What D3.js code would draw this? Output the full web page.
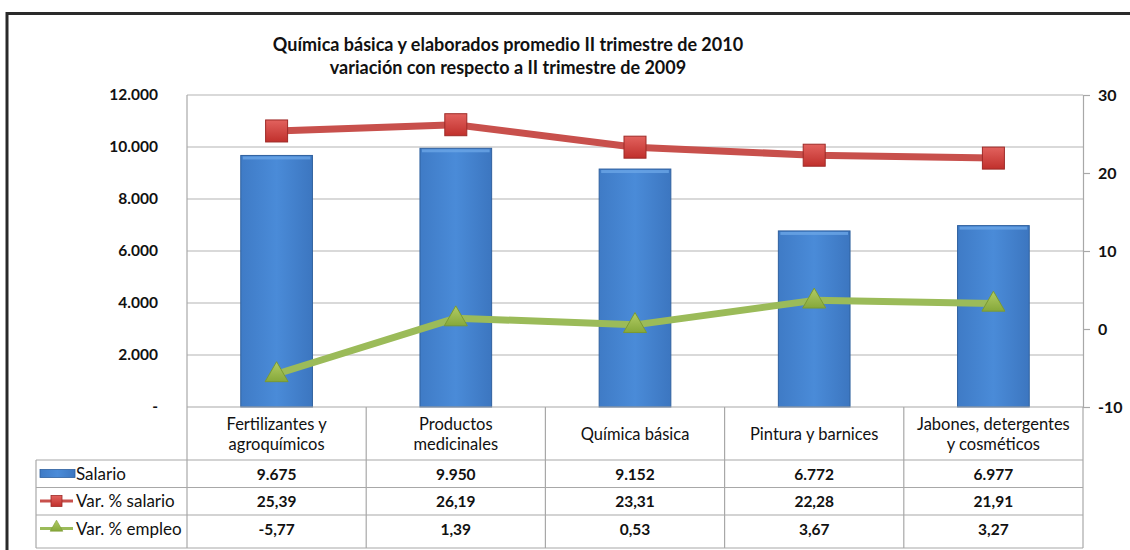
<!DOCTYPE html>
<html><head><meta charset="utf-8">
<script src="https://cdn.jsdelivr.net/npm/d3@7"></script>
<style>html,body{margin:0;padding:0;background:#fff;}svg{display:block;font-family:Lato,"Noto Sans",sans-serif;}</style>
</head><body>
<script>
const categories = [["Fertilizantes y","agroquímicos"],["Productos","medicinales"],["Química básica"],["Pintura y barnices"],["Jabones, detergentes","y cosméticos"]];
const salario = [9675, 9950, 9152, 6772, 6977];
const varSalario = [25.39, 26.19, 23.31, 22.28, 21.91];
const varEmpleo = [-5.77, 1.39, 0.53, 3.67, 3.27];
const salarioLabels = ["9.675","9.950","9.152","6.772","6.977"];
const varSalarioLabels = ["25,39","26,19","23,31","22,28","21,91"];
const varEmpleoLabels = ["-5,77","1,39","0,53","3,67","3,27"];
const leftTicks = [0,2000,4000,6000,8000,10000,12000];
const leftTickLabels = ["-","2.000","4.000","6.000","8.000","10.000","12.000"];
const rightTicks = [-10,0,10,20,30];
const seriesNames = ["Salario","Var. % salario","Var. % empleo"];
const titleLines = ["Química básica y elaborados  promedio II trimestre de 2010","variación con respecto a II trimestre de 2009"];

const W=1130,H=550;
const svg=d3.select("body").append("svg").attr("width",W).attr("height",H);
const defs=svg.append("defs");
const gb=defs.append("linearGradient").attr("id","gbar").attr("x1",0).attr("x2",1).attr("y1",0).attr("y2",0);
gb.append("stop").attr("offset","0").attr("stop-color","#3f7bc6");
gb.append("stop").attr("offset","0.5").attr("stop-color","#4a8bd8");
gb.append("stop").attr("offset","1").attr("stop-color","#3c76c0");
const gr=defs.append("linearGradient").attr("id","gred").attr("x1",0).attr("x2",0).attr("y1",0).attr("y2",1);
gr.append("stop").attr("offset","0").attr("stop-color","#e2625e");
gr.append("stop").attr("offset","1").attr("stop-color","#c0302c");
const gg=defs.append("linearGradient").attr("id","ggreen").attr("x1",0).attr("x2",0).attr("y1",0).attr("y2",1);
gg.append("stop").attr("offset","0").attr("stop-color","#b2cc64");
gg.append("stop").attr("offset","1").attr("stop-color","#86a83a");

// outer frame
svg.append("path").attr("d","M7,551 V13.5 H1131").attr("fill","none").attr("stroke","#2a2a2a").attr("stroke-width",3);

const L=187,R=1083,T=95,B=407;
const x=d3.scaleBand().domain(d3.range(categories.length)).range([L,R]).paddingInner(0.6).paddingOuter(0.3);
const step=x.step();
const cx=i=>x(i)+x.bandwidth()/2;
const yL=d3.scaleLinear().domain([0,12000]).range([B,T]);
const yR=d3.scaleLinear().domain([-10,30]).range([B,T]);

// title
svg.append("g").selectAll("text").data(titleLines).join("text")
 .attr("x",508).attr("y",(d,i)=>51+i*23).attr("text-anchor","middle")
 .attr("font-size",18).attr("font-weight","bold").attr("fill","#111").text(d=>d);

// gridlines
svg.append("g").selectAll("line").data(leftTicks.slice(1)).join("line")
 .attr("x1",L).attr("x2",R).attr("y1",d=>yL(d)).attr("y2",d=>yL(d))
 .attr("stroke","#b4b4b4").attr("stroke-width",1.2);

// left axis labels
svg.append("g").selectAll("text").data(leftTicks).join("text")
 .attr("x",158).attr("y",d=>yL(d)+5).attr("text-anchor","end")
 .attr("font-size",15.5).attr("font-weight","bold").attr("fill","#111")
 .text((d,i)=>leftTickLabels[i]);

// right axis
const ra=svg.append("g").attr("transform",`translate(${R},0)`)
 .call(d3.axisRight(yR).tickValues(rightTicks).tickSize(7).tickPadding(8).tickFormat(d=>String(d)));
ra.select(".domain").attr("stroke","#a8a8a8").attr("stroke-width",1.2);
ra.selectAll(".tick line").attr("stroke","#a8a8a8").attr("stroke-width",1.2);
ra.selectAll(".tick text").attr("font-size",16).attr("font-weight","bold").attr("fill","#111").attr("font-family","Lato,sans-serif");

// left plot border
svg.append("line").attr("x1",L).attr("x2",L).attr("y1",T).attr("y2",B).attr("stroke","#a8a8a8").attr("stroke-width",1.2);

// bars
svg.append("g").selectAll("rect").data(salario).join("rect")
 .attr("x",(d,i)=>x(i)).attr("width",x.bandwidth())
 .attr("y",d=>yL(d)).attr("height",d=>B-yL(d))
 .attr("fill","url(#gbar)").attr("stroke","#2f609e").attr("stroke-width",1);
svg.append("g").selectAll("rect").data(salario).join("rect")
 .attr("x",(d,i)=>x(i)+2).attr("width",x.bandwidth()-4)
 .attr("y",d=>yL(d)+1).attr("height",3).attr("fill","#6aa5e6").attr("opacity",0.8);

// lines
svg.append("path").datum(varSalario).attr("d",d3.line().x((d,i)=>cx(i)).y(d=>yR(d))).attr("fill","none")
 .attr("stroke","#c8504c").attr("stroke-width",7).attr("stroke-linejoin","round");
svg.append("path").datum(varEmpleo).attr("d",d3.line().x((d,i)=>cx(i)).y(d=>yR(d))).attr("fill","none")
 .attr("stroke","#9bbb59").attr("stroke-width",7).attr("stroke-linejoin","round");

// markers
svg.append("g").selectAll("rect").data(varSalario).join("rect")
 .attr("x",(d,i)=>cx(i)-11).attr("y",d=>yR(d)-11).attr("width",22).attr("height",22)
 .attr("fill","url(#gred)").attr("stroke","#9e2a27").attr("stroke-width",1);
const tri=d3.symbol().type(d3.symbolTriangle).size(230);
svg.append("g").selectAll("path").data(varEmpleo).join("path")
 .attr("transform",(d,i)=>`translate(${cx(i)},${yR(d)+1})`).attr("d",tri)
 .attr("fill","url(#ggreen)").attr("stroke","#7a9a33").attr("stroke-width",1);

// table
const rowTop=460;
const rows=[salarioLabels,varSalarioLabels,varEmpleoLabels];
const tg=svg.append("g");
const gridC="#a8a8a8";
const vx=d3.range(categories.length+1).map(i=>L+i*step);
tg.selectAll("line.v").data(vx).join("line").attr("class","v")
 .attr("x1",d=>d).attr("x2",d=>d).attr("y1",B).attr("y2",548).attr("stroke",gridC).attr("stroke-width",1.2);
const hy=[rowTop,rowTop+27.5,rowTop+55,548];
tg.selectAll("line.h").data(hy).join("line").attr("class","h")
 .attr("x1",36).attr("x2",R).attr("y1",d=>d).attr("y2",d=>d).attr("stroke",gridC).attr("stroke-width",1.2);
tg.append("line").attr("x1",L).attr("x2",R).attr("y1",B).attr("y2",B).attr("stroke",gridC).attr("stroke-width",1.2);
tg.append("line").attr("x1",36).attr("x2",36).attr("y1",rowTop).attr("y2",548).attr("stroke",gridC).attr("stroke-width",1.2);

categories.forEach((c,i)=>{
  const t=tg.append("text").attr("text-anchor","middle").attr("font-size",16.5).attr("fill","#111");
  const y0 = c.length===1 ? 440 : 430;
  c.forEach((s,j)=>t.append("tspan").attr("x",cx(i)).attr("y",y0+j*20).text(s));
});
rows.forEach((r,ri)=>{
  tg.selectAll(null).data(r).join("text").attr("x",(d,i)=>cx(i)).attr("y",rowTop+ri*27.5+19.5)
   .attr("text-anchor","middle").attr("font-size",15.5).attr("font-weight","bold").attr("fill","#111").text(d=>d);
});
const ly=i=>rowTop+i*27.5+13.5;
tg.append("rect").attr("x",40).attr("y",ly(0)-4).attr("width",35).attr("height",8).attr("fill","url(#gbar)").attr("stroke","#2f609e").attr("stroke-width",0.8);
tg.append("line").attr("x1",40).attr("x2",73).attr("y1",ly(1)).attr("y2",ly(1)).attr("stroke","#c8504c").attr("stroke-width",3);
tg.append("rect").attr("x",51).attr("y",ly(1)-5.5).attr("width",11).attr("height",11).attr("fill","url(#gred)").attr("stroke","#9e2a27").attr("stroke-width",0.8);
tg.append("line").attr("x1",40).attr("x2",73).attr("y1",ly(2)).attr("y2",ly(2)).attr("stroke","#9bbb59").attr("stroke-width",3);
tg.append("path").attr("transform",`translate(56.5,${ly(2)-1})`).attr("d",d3.symbol().type(d3.symbolTriangle).size(70)).attr("fill","url(#ggreen)").attr("stroke","#7a9a33").attr("stroke-width",0.6);
tg.selectAll("text.leg").data(seriesNames).join("text").attr("class","leg")
 .attr("x",76).attr("y",(d,i)=>ly(i)+6).attr("font-size",17).attr("fill","#111").text(d=>d);
</script>
</body></html>
